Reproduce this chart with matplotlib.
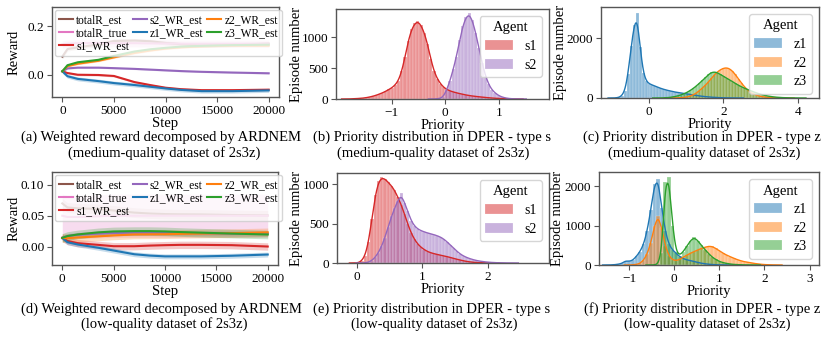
import numpy as np
import matplotlib
matplotlib.use("Agg")
import matplotlib.pyplot as plt

plt.rcParams['font.family'] = ['Liberation Serif', 'DejaVu Serif']
plt.rcParams['axes.unicode_minus'] = True

# ---------------- data: weighted reward curves ----------------
steps = [0, 500, 1500, 3500, 5000, 7000, 8500, 10000, 11500, 13500, 16500, 20000]

# (a) medium-quality dataset
a_totalR_est = [0.075, 0.106, 0.113, 0.125, 0.139, 0.141, 0.138, 0.131, 0.126, 0.121, 0.124, 0.128]
a_totalR_true = [0.125, 0.128, 0.130, 0.131, 0.130, 0.130, 0.129, 0.129, 0.128, 0.128, 0.128, 0.128]
a_s1 = [0.015, 0.008, 0.001, 0.000, -0.004, -0.029, -0.041, -0.052, -0.058, -0.062, -0.062, -0.060]
a_s2 = [0.015, 0.027, 0.030, 0.030, 0.028, 0.025, 0.022, 0.019, 0.016, 0.013, 0.010, 0.007]
a_z1 = [0.015, -0.005, -0.016, -0.025, -0.033, -0.041, -0.048, -0.055, -0.061, -0.066, -0.066, -0.063]
a_z2 = [0.015, 0.036, 0.046, 0.058, 0.072, 0.090, 0.100, 0.108, 0.113, 0.117, 0.120, 0.120]
a_z3 = [0.015, 0.040, 0.052, 0.062, 0.078, 0.096, 0.105, 0.111, 0.116, 0.119, 0.122, 0.124]
a_spread = [0.008, 0.015, 0.004, 0.003, 0.008, 0.004, 0.004]

# (d) low-quality dataset
d_totalR_est = [0.070, 0.0635, 0.062, 0.061, 0.0585, 0.0551, 0.0536, 0.0527, 0.0523, 0.0521, 0.0512, 0.0505]
d_totalR_true = [0.050, 0.048, 0.048, 0.049, 0.050, 0.050, 0.050, 0.050, 0.050, 0.050, 0.050, 0.050]
d_s1 = [0.014, 0.009, 0.0055, 0.0027, 0.0005, 0.0005, 0.0015, 0.0022, 0.0027, 0.0027, 0.0022, 0.0]
d_s2 = [0.014, 0.017, 0.019, 0.021, 0.022, 0.0226, 0.0225, 0.022, 0.0218, 0.0215, 0.021, 0.021]
d_z1 = [0.014, 0.007, 0.0033, -0.002, -0.0065, -0.0125, -0.0147, -0.016, -0.016, -0.016, -0.015, -0.013]
d_z2 = [0.014, 0.0135, 0.0147, 0.0165, 0.018, 0.0196, 0.0198, 0.020, 0.0205, 0.021, 0.0217, 0.023]
d_z3 = [0.014, 0.017, 0.0196, 0.023, 0.0245, 0.025, 0.025, 0.0245, 0.0235, 0.0225, 0.021, 0.0195]
d_spread = [0.008, 0.035, 0.006, 0.004, 0.004, 0.007, 0.007]

reward_labels = ['totalR_est', 'totalR_true', 's1_WR_est', 's2_WR_est', 'z1_WR_est', 'z2_WR_est', 'z3_WR_est']

# ---------------- data: priority histograms ----------------
# (b) type s, medium quality: bins start -1.8, width 0.06
b_start, b_width = -1.8, 0.06
b_s1 = [2, 4, 7, 10, 15, 22, 32, 45, 60, 80, 100, 125, 155, 185, 230, 300, 450, 680, 950, 1130,
        1230, 1270, 1200, 1080, 900, 650, 450, 330, 250, 190, 155, 130, 115, 100, 88, 76, 65, 56, 48, 42,
        36, 30, 25, 20, 16, 12, 9, 7, 5, 3, 2, 1, 0, 0, 0, 0, 0, 0, 0, 0]
b_s2 = [0, 0, 0, 0, 0, 0, 0, 0, 0, 0, 0, 0, 0, 0, 0, 0, 0, 0, 0, 0,
        0, 0, 0, 0, 0, 0, 0, 3, 10, 35, 150, 290, 480, 680, 960, 1190, 1340, 1390, 1280, 1080,
        830, 580, 380, 240, 150, 100, 60, 35, 20, 10, 5, 2, 1, 0, 0, 0, 0, 0, 0, 0]

# (c) type z, medium quality: bins start -1.0, width 0.08
c_start, c_width = -1.0, 0.08
c_z1 = [0, 5, 20, 80, 250, 800, 1750, 2450, 2850, 1700, 850, 560, 480, 440, 400, 360, 320, 290, 260, 240,
        215, 195, 180, 165, 150, 135, 120, 100, 85, 70, 55, 45, 35, 28, 20, 15, 10, 7, 5, 3,
        2, 1, 0, 0, 0, 0, 0, 0, 0, 0, 0, 0, 0, 0, 0, 0, 0, 0, 0, 0, 0, 0, 0, 0]
c_z2 = [0, 0, 0, 0, 0, 0, 0, 0, 0, 0, 0, 0, 0, 0, 0, 0, 0, 0, 0, 0,
        1, 2, 5, 10, 20, 40, 70, 110, 170, 250, 340, 430, 540, 660, 780, 880, 950, 1000, 1020, 990,
        910, 790, 650, 510, 380, 280, 200, 140, 95, 65, 45, 30, 20, 13, 8, 5, 3, 2, 1, 0, 0, 0, 0, 0]
c_z3 = [0, 0, 0, 0, 0, 0, 0, 0, 0, 0, 0, 0, 0, 0, 0, 0, 2, 5, 10, 20,
        35, 55, 80, 110, 150, 200, 260, 330, 410, 500, 590, 690, 790, 860, 880, 850, 790, 730, 680, 620,
        550, 490, 430, 380, 330, 290, 250, 210, 175, 140, 110, 85, 65, 48, 35, 25, 18, 12, 8, 5, 3, 2, 1, 0]

# (e) type s, low quality: bins start 0.0, width 0.05
e_start, e_width = 0.0, 0.05
e_s1 = [2, 30, 90, 260, 560, 860, 1040, 1085, 1070, 1020, 980, 920, 830, 740, 620, 490, 380, 300, 240, 200,
        170, 145, 130, 118, 108, 100, 92, 82, 70, 58, 48, 38, 28, 20, 14, 9, 6, 4, 3, 2,
        1, 0, 0, 0, 0, 0, 0, 0, 0, 0, 0, 0, 0, 0, 0, 0]
e_s2 = [0, 0, 3, 10, 30, 70, 130, 210, 320, 460, 590, 700, 790, 890, 760, 660, 530, 470, 430, 410,
        395, 380, 370, 360, 345, 330, 305, 270, 230, 190, 150, 115, 90, 70, 55, 42, 32, 24, 18, 13,
        9, 6, 4, 3, 2, 1, 1, 0, 0, 0, 0, 0, 0, 0, 0, 0]

# (f) type z, low quality: bins start -1.44, width 0.08
f_start, f_width = -1.44, 0.08
f_z1 = [3, 8, 20, 40, 110, 90, 120, 220, 340, 520, 870, 1400, 2050, 2190, 1450, 850, 520, 380, 300, 210,
        160, 130, 110, 90, 65, 45, 30, 20, 12, 7, 4, 2, 1, 0, 0, 0, 0, 0, 0, 0, 0, 0, 0, 0, 0, 0]
f_z2 = [0, 0, 0, 0, 0, 0, 5, 15, 40, 120, 280, 560, 1000, 1250, 950, 480, 230, 130, 110, 140,
        200, 250, 300, 340, 380, 420, 450, 475, 470, 420, 360, 300, 250, 210, 170, 135, 105, 80, 70, 50,
        35, 25, 13, 8, 5, 3]
f_z3 = [0, 0, 0, 0, 0, 0, 0, 0, 0, 0, 0, 0, 3, 20, 300, 2100, 2240, 1000, 330, 240,
        340, 480, 620, 700, 620, 500, 390, 290, 200, 140, 90, 60, 40, 25, 15, 9, 5, 3, 2, 1,
        0, 0, 0, 0, 0, 0]

# ---------------- styling ----------------
COL = {'totalR_est': '#8c564b', 'totalR_true': '#e377c2', 's1': '#d62728', 's2': '#9467bd',
       'z1': '#1f77b4', 'z2': '#ff7f0e', 'z3': '#2ca02c'}
SPINE = '#555555'
TICK_FS = 9.5
LABEL_FS = 10.5
CAP_FS = 10.5

W, H = 830, 338
fig = plt.figure(figsize=(W / 100, H / 100), dpi=100)


def add_ax(l, t, r, b):
    return fig.add_axes([l / W, 1 - b / H, (r - l) / W, (b - t) / H])


def style(ax):
    for s in ax.spines.values():
        s.set_color(SPINE)
        s.set_linewidth(1.0)
    ax.tick_params(labelsize=TICK_FS, colors='black', length=3.5, width=0.8, pad=2)
    ax.tick_params(axis='both', color=SPINE)


def reward_panel(ax, series, spreads, ylim, yticks, yticklabels, ylab_x):
    keys = ['totalR_est', 'totalR_true', 's1', 's2', 'z1', 'z2', 'z3']
    for vals, sp, key, lab in zip(series, spreads, keys, reward_labels):
        v = np.asarray(vals, float)
        ax.fill_between(steps, v - sp, v + sp, color=COL[key], alpha=0.25, lw=0)
        ax.plot(steps, v, color=COL[key], lw=1.5, label=lab)
    ax.set_xlim(-1000, 21000)
    ax.set_ylim(*ylim)
    ax.set_xticks([0, 5000, 10000, 15000, 20000])
    ax.set_yticks(yticks)
    ax.set_yticklabels(yticklabels)
    ax.set_xlabel('Step', fontsize=LABEL_FS, labelpad=0)
    ax.set_ylabel('Reward', fontsize=LABEL_FS)
    ax.yaxis.set_label_coords(ylab_x, 0.5)
    style(ax)
    ax.legend(loc='upper left', ncol=3, fontsize=8.3, handlelength=1.2, handletextpad=0.3,
              columnspacing=0.3, labelspacing=0.1, borderpad=0.35, borderaxespad=0.25)


def kde_curve(centers, counts, width, bw):
    nz = np.nonzero(counts)[0]
    lo = centers[nz[0]] - width / 2 - 3 * bw
    hi = centers[nz[-1]] + width / 2 + 3 * bw
    xs = np.linspace(lo, hi, 500)
    k = np.exp(-0.5 * ((xs[:, None] - centers[None, :]) / bw) ** 2) / (bw * np.sqrt(2 * np.pi))
    ys = (k * counts[None, :]).sum(axis=1) * width
    return xs, ys


def hist_panel(ax, start, width, series, names, bw, xlim, xticks, ylim, yticks, ylab_x):
    for counts, name in zip(series, names):
        c = np.asarray(counts, float)
        centers = start + width * (np.arange(len(c)) + 0.5)
        m = c > 0
        ax.bar(centers[m], c[m], width=width, color=COL[name], alpha=0.5,
               edgecolor='white', linewidth=0.3, label=name)
        xs, ys = kde_curve(centers, c, width, bw)
        ax.plot(xs, ys, color=COL[name], lw=1.0)
    ax.set_xlim(*xlim)
    ax.set_ylim(*ylim)
    ax.set_xticks(xticks)
    ax.set_yticks(yticks)
    ax.set_xlabel('Priority', fontsize=LABEL_FS, labelpad=0)
    ax.set_ylabel('Episode number', fontsize=LABEL_FS)
    ax.yaxis.set_label_coords(ylab_x, 0.5)
    style(ax)
    ax.legend(title='Agent', loc='upper right', fontsize=10, title_fontsize=10.5,
              handlelength=2.0, borderpad=0.4, labelspacing=0.4)


# (a)
ax = add_ax(52, 7, 279, 97)
reward_panel(ax, [a_totalR_est, a_totalR_true, a_s1, a_s2, a_z1, a_z2, a_z3], a_spread,
             (-0.09, 0.278), [0.0, 0.2], ['0.0', '0.2'], -0.137)
# (d)
ax = add_ax(52, 172, 278, 265)
reward_panel(ax, [d_totalR_est, d_totalR_true, d_s1, d_s2, d_z1, d_z2, d_z3], d_spread,
             (-0.030, 0.121), [0.0, 0.05, 0.10], ['0.00', '0.05', '0.10'], -0.137)
# (b)
ax = add_ax(336, 9, 549, 99)
hist_panel(ax, b_start, b_width, [b_s1, b_s2], ['s1', 's2'], 0.045,
           (-2.04, 1.94), [-1, 0, 1], (0, 1463), [0, 500, 1000], -0.155)
# (c)
ax = add_ax(601, 7, 819, 98)
hist_panel(ax, c_start, c_width, [c_z1, c_z2, c_z3], ['z1', 'z2', 'z3'], 0.06,
           (-1.29, 4.57), [0, 2, 4], (0, 3054), [0, 2000], -0.158)
# (e)
ax = add_ax(337, 173, 549, 263)
hist_panel(ax, e_start, e_width, [e_s1, e_s2], ['s1', 's2'], 0.04,
           (-0.31, 2.94), [0, 1, 2], (0, 1140), [0, 500, 1000], -0.16)
# (f)
ax = add_ax(599, 172, 819, 265)
hist_panel(ax, f_start, f_width, [f_z1, f_z2, f_z3], ['z1', 'z2', 'z3'], 0.05,
           (-1.67, 3.21), [-1, 0, 1, 2, 3], (0, 2357), [0, 1000, 2000], -0.16)

# captions
captions = [
    (161, 137, '(a) Weighted reward decomposed by ARDNEM'),
    (164, 153, '(medium-quality dataset of 2s3z)'),
    (432, 137, '(b) Priority distribution in DPER - type s'),
    (433, 153, '(medium-quality dataset of 2s3z)'),
    (702, 137, '(c) Priority distribution in DPER - type z'),
    (704, 153, '(medium-quality dataset of 2s3z)'),
    (161, 309, '(d) Weighted reward decomposed by ARDNEM'),
    (164, 324, '(low-quality dataset of 2s3z)'),
    (432, 309, '(e) Priority distribution in DPER - type s'),
    (434, 324, '(low-quality dataset of 2s3z)'),
    (702, 309, '(f) Priority distribution in DPER - type z'),
    (707, 324, '(low-quality dataset of 2s3z)'),
]
for x, y, s in captions:
    fig.text(x / W, 1 - y / H, s, ha='center', va='center', fontsize=CAP_FS)

fig.savefig('out.png', dpi=100)
